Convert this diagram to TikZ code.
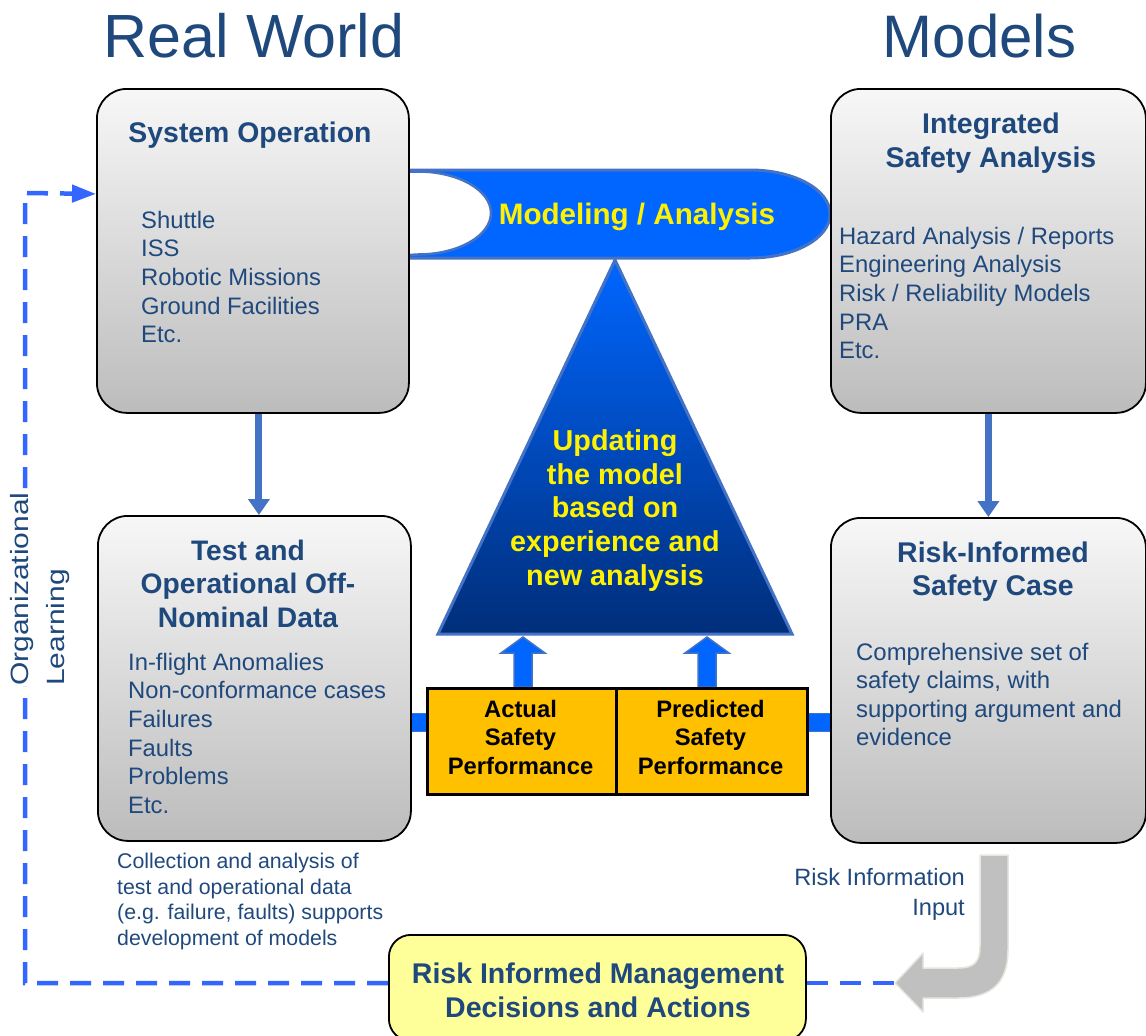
\documentclass[tikz,border=0pt]{standalone}
\usepackage{fontspec}
\setmainfont{Liberation Sans}
\newfontfamily\stretchfont[FakeStretch=1.2]{Liberation Sans}
\usetikzlibrary{arrows.meta,calc}
\definecolor{tblue}{HTML}{1F497D}
\definecolor{pillblue}{HTML}{0066FF}
\definecolor{edgeblue}{HTML}{4472C4}
\definecolor{dashblue}{HTML}{3366FF}
\definecolor{orangebox}{HTML}{FFC000}
\definecolor{lightyel}{HTML}{FFFF99}
\definecolor{boxtop}{HTML}{F7F7F7}
\definecolor{boxbot}{HTML}{BCBCBC}
\definecolor{tribot}{HTML}{002E7A}
\definecolor{greyarrow}{HTML}{C0C0C0}
\definecolor{greyedge}{HTML}{E6E6DE}
\begin{document}
\begin{tikzpicture}[x=1pt,y=-1pt,
  gbox/.style={draw=black, line width=1.8pt, rounded corners=30pt, top color=boxtop, bottom color=boxbot, inner sep=0pt, anchor=north west},
  obox/.style={draw=black, line width=2.5pt, fill=orangebox, inner sep=0pt, anchor=north west},
  ttl/.style={text=tblue, align=center, inner sep=0pt, anchor=north, font=\fontsize{28.5}{34}\selectfont\bfseries},
  itm/.style={text=tblue, align=left, inner sep=0pt, anchor=north west, font=\fontsize{23.8}{28.6}\selectfont},
  ytxt/.style={text=yellow, align=center, inner sep=0pt},
  darr/.style={draw=edgeblue, line width=7pt, -{Triangle[length=16pt,width=21pt]}},
  hbar/.style={draw=edgeblue, line width=1.2pt, double=pillblue, double distance=17pt},
  uparr/.style={fill=pillblue, draw=edgeblue, line width=1.5pt},
  dashl/.style={draw=dashblue, line width=4.5pt, dash pattern=on 21pt off 12pt}]
\useasboundingbox (0,0) rectangle (1146,1036);

% coordinates
\coordinate (olc) at (25,193);
\coordinate (gtip) at (895,983);
\coordinate (hb) at (0,722.5);

% titles
\node[anchor=base, text=tblue, inner sep=0pt, font=\fontsize{61}{72}\selectfont] (rw) at (254,57) {Real World};
\node[anchor=base, text=tblue, inner sep=0pt, font=\fontsize{60}{72}\selectfont] (mo) at (979.5,57) {Models};

% modeling pill
\draw[fill=pillblue, draw=edgeblue, line width=3pt] (380,170) -- (750,170) arc[start angle=-90, end angle=90, x radius=80, y radius=44] -- (380,258) -- cycle;
\draw[fill=white, draw=edgeblue, line width=2.5pt] (380,171.5) -- (418,171.5) arc[start angle=-90, end angle=90, x radius=73, y radius=41.5] -- (380,256.5) -- cycle;

% triangle
\draw[top color=pillblue, bottom color=tribot, draw=edgeblue, line width=3pt, line join=miter] (615,260) -- (792,634) -- (438,634) -- cycle;

% main boxes
\node[gbox, minimum width=312pt, minimum height=324pt] (sysop) at (96,88) {};
\node[gbox, minimum width=315pt, minimum height=324pt] (isa) at (830,88) {};
\node[gbox, minimum width=313pt, minimum height=325pt] (test) at (97,515) {};
\node[gbox, minimum width=315pt, minimum height=325pt] (risk) at (830,517) {};

% management box and organizational learning loop
\node[draw=black, line width=1.8pt, rounded corners=22pt, fill=lightyel, inner sep=0pt, anchor=north west, minimum width=417pt, minimum height=106pt] (rimd) at (388,934) {};
\draw[dashl, -{Triangle[length=24pt,width=17pt]}] (rimd.west |- gtip) -| (olc) -- ([yshift=57pt]sysop.west);
\draw[dashl] (rimd.east |- gtip) -- (gtip);

% up arrows
\coordinate (ua) at (523,687);
\coordinate (ub) at (707,687);
\draw[uparr] ($(ua)+(-9,0)$) -- ++(0,-34) -- ++(-13,0) -- ++(22,-16) -- ++(22,16) -- ++(-13,0) -- ++(0,34) -- cycle;
\draw[uparr] ($(ub)+(-9,0)$) -- ++(0,-34) -- ++(-13,0) -- ++(22,-16) -- ++(22,16) -- ++(-13,0) -- ++(0,34) -- cycle;

% orange boxes
\node[obox, minimum width=189pt, minimum height=106pt] (actual) at (426,687) {};
\node[obox, minimum width=191pt, minimum height=106pt] (pred) at (615,687) {};

% horizontal bars
\draw[hbar] (test.east |- hb) -- (actual.west |- hb);
\draw[hbar] (pred.east |- hb) -- (risk.west |- hb);

% down arrows
\coordinate (sa) at ([xshift=6pt]sysop.south);
\draw[darr] (sa) -- (sa |- test.north);
\draw[darr] (isa.south) -- (isa.south |- risk.north);

% grey curved arrow
\draw[fill=greyarrow, draw=greyedge, line width=1.5pt, line join=round]
  (980,855) -- (980,946) .. controls (980,962) and (974,968) .. (958,968) -- (923,968) -- (923,953) -- (gtip) -- (923,1012) -- (923,998) -- (958,998) .. controls (992,998) and (1008,982) .. (1008,950) -- (1008,855) -- cycle;

% texts
\node[ytxt, anchor=base, font=\fontsize{29.6}{34}\selectfont\bfseries] (modtxt) at (637,224) {Modeling / Analysis};
\node[ytxt, anchor=north, font=\fontsize{28.8}{33.8}\selectfont\bfseries] (tritxt) at (615,429.3) {Updating\\the model\\based on\\experience and\\new analysis};

\node[text=tblue, inner sep=0pt, anchor=base, font=\fontsize{28.4}{34}\selectfont\bfseries] (sotitle) at (250,142) {System Operation};
\node[itm] (soitems) at (141,210.9) {Shuttle\\ISS\\Robotic Missions\\Ground Facilities\\Etc.};

\node[ttl] (isatitle) at (991,112.5) {Integrated\\Safety Analysis};
\node[itm] (isaitems) at (839,226.9) {Hazard Analysis / Reports\\Engineering Analysis\\Risk / Reliability Models\\PRA\\Etc.};

\node[ttl, font=\fontsize{28.2}{33.5}\selectfont\bfseries] (testtitle) at (248,539.7) {Test and\\Operational Off-\\Nominal Data};
\node[itm] (testitems) at (128,652.9) {In-flight Anomalies\\Non-conformance cases\\Failures\\Faults\\Problems\\Etc.};

\node[text=tblue, align=left, inner sep=0pt, anchor=north west, font=\fontsize{21.3}{25.7}\selectfont] (caption) at (117,852.7) {Collection and analysis of\\test and operational data\\(e.g. failure, faults) supports\\development of models};

\node[ttl, font=\fontsize{28.5}{33.5}\selectfont\bfseries] (risktitle) at (993,541.5) {Risk-Informed\\Safety Case};
\node[text=tblue, align=left, inner sep=0pt, anchor=north west, font=\fontsize{23.9}{28.5}\selectfont] (riskbody) at (856,642.9) {Comprehensive set of\\safety claims, with\\supporting argument and\\evidence};

\node[align=center, inner sep=0pt, anchor=north, font=\fontsize{23.8}{28.5}\selectfont\bfseries] (acttxt) at (520.5,699.9) {Actual\\Safety\\Performance};
\node[align=center, inner sep=0pt, anchor=north, font=\fontsize{23.8}{28.5}\selectfont\bfseries] (predtxt) at (710.5,699.9) {Predicted\\Safety\\Performance};

\node[ttl] (rimdtxt) at (598,962.5) {Risk Informed Management\\Decisions and Actions};

\node[text=tblue, align=right, inner sep=0pt, anchor=north east, font=\fontsize{23.6}{30}\selectfont] (ritxt) at (965,868) {Risk Information\\Input};

\node[rotate=90, anchor=north west, fill=white, inner sep=0pt, align=left, text=tblue, font=\stretchfont\fontsize{25}{36}\selectfont] (orgl) at (10,686) {Organizational\\Learning};
\end{tikzpicture}
\end{document}
